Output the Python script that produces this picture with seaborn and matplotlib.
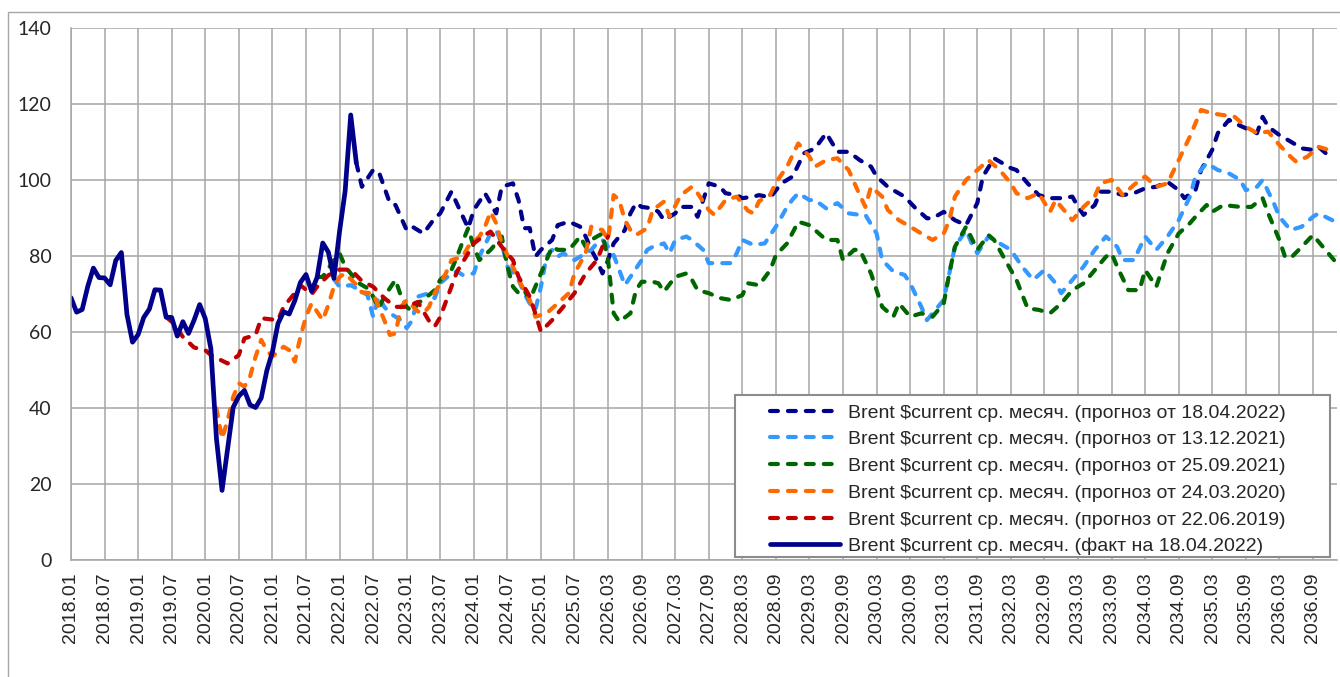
import matplotlib
matplotlib.use("Agg")
import matplotlib.pyplot as plt
import seaborn as sns
from matplotlib.patches import Rectangle

# Category axis: index 0 = 2018.01, one category per month, label every 6th
tick_labels = ["2018.01", "2018.07", "2019.01", "2019.07", "2020.01", "2020.07",
               "2021.01", "2021.07", "2022.01", "2022.07", "2023.01", "2023.07",
               "2024.01", "2024.07", "2025.01", "2025.07", "2026.03", "2026.09",
               "2027.03", "2027.09", "2028.03", "2028.09", "2029.03", "2029.09",
               "2030.03", "2030.09", "2031.03", "2031.09", "2032.03", "2032.09",
               "2033.03", "2033.09", "2034.03", "2034.09", "2035.03", "2035.09",
               "2036.03", "2036.09"]

# fact (solid), monthly from 2018.01 to 2022.04
fact_vals = [69.1, 65.3, 66.0, 72.1, 76.9, 74.4, 74.3, 72.5, 78.9, 81.0, 64.7, 57.4,
             59.4, 63.9, 66.1, 71.2, 71.1, 64.0, 63.9, 59.0, 62.8, 59.7, 63.2, 67.3,
             63.6, 55.7, 32.0, 18.4, 29.4, 40.3, 43.2, 44.7, 40.9, 40.2, 42.7, 49.9,
             54.8, 62.3, 65.4, 64.8, 68.3, 73.1, 75.2, 70.8, 74.5, 83.5, 81.1, 74.2,
             86.5, 97.1, 117.2, 104.6]
fact_idx = list(range(len(fact_vals)))

# forecast 18.04.2022
f2204_idx = [51, 52, 54, 55, 57, 58, 60, 61, 63, 65, 66, 68, 71, 72, 74, 76, 77, 79, 80, 81,
             82, 83, 84, 86, 87, 89, 91, 92, 93, 94, 95, 96, 97, 99, 100, 101, 102, 104, 105, 106,
             108, 109, 111, 112, 113, 114, 116, 117, 119, 120, 122, 123, 125, 127, 129, 131, 133, 135, 137, 139,
             141, 143, 144, 146, 147, 149, 151, 153, 154, 156, 158, 160, 162, 163, 165, 168, 169, 171, 173, 175,
             177, 179, 180, 181, 183, 184, 186, 188, 190, 192, 194, 196, 198, 199, 201, 202, 204, 205, 207, 208,
             210, 212, 213, 214, 216, 218, 220, 222, 223, 225]
f2204_vals = [104.6, 98.3, 102.7, 102.3, 94, 93.5, 86.9, 87.8, 86, 90, 91.3, 97, 87.4, 92.2, 96.6, 91.3, 98.3, 99.2, 94.8, 87.4,
              87.4, 79.9, 81.7, 84.3, 88.2, 89.1, 87.8, 85.2, 81.7, 79, 75.5, 79, 83.4, 86.9, 91.3, 94, 93, 92.6, 91.7, 89.5,
              91.3, 93, 93, 90.4, 94.8, 99.2, 98.3, 96.6, 96.1, 95.3, 95.7, 96.1, 95.5, 99.2, 101, 107.1, 108.4, 112.4, 107.5, 107.5,
              105.3, 103.6, 101, 98.3, 97.4, 95.7, 92.6, 90, 90, 91.7, 89.5, 88.2, 94, 101, 105.8, 103.2, 102.7, 99.2, 96.1, 95.3,
              95.3, 95.7, 93, 90.9, 93.5, 97, 97, 96.1, 96.6, 97.9, 98.3, 99.6, 97.4, 95.3, 97.4, 102.7, 108, 112.4, 115.9, 115,
              113.7, 112.4, 116.7, 114.1, 111.9, 110.2, 108.4, 108, 108.8, 106.2]

# forecast 13.12.2021
f2112_idx = [47, 48, 50, 51, 53, 54, 55, 56, 57, 59, 60, 61, 62, 64, 65, 66, 68, 69, 70, 72,
             73, 74, 75, 76, 77, 78, 80, 81, 82, 83, 84, 85, 86, 87, 88, 90, 92, 93, 94, 95,
             96, 97, 98, 99, 100, 102, 103, 104, 106, 107, 108, 110, 111, 113, 114, 116, 118, 119, 120, 122,
             124, 126, 128, 129, 130, 132, 133, 135, 137, 139, 141, 142, 144, 145, 147, 149, 150, 152, 153, 154,
             156, 157, 158, 160, 161, 162, 164, 166, 168, 170, 172, 174, 176, 177, 179, 181, 183, 185, 187, 188,
             190, 192, 194, 196, 198, 200, 201, 203, 205, 207, 209, 210, 212, 213, 215, 216, 218, 220, 222, 223,
             226]
f2112_vals = [74, 72, 72.4, 71.6, 69.8, 64.1, 69.4, 66.7, 65, 63.2, 61.1, 63.2, 69.4, 70.3, 69, 72.9, 75.5, 76, 75.1, 75.5,
              80, 83, 86, 86.9, 83.4, 77.3, 73.8, 70.3, 67.6, 65.9, 72, 79.9, 81.7, 79.9, 80.8, 79, 80.8, 81.7, 83.4, 84.3,
              82.5, 80.3, 76.4, 72.4, 74.6, 79, 81.7, 82.5, 83.4, 80.8, 84.3, 85.2, 84.3, 81.7, 78.2, 78.2, 78.2, 80.8, 84.3, 83,
              83.4, 87.8, 93, 95, 96.6, 94.8, 94.8, 92.6, 94, 91.3, 90.9, 90.9, 86, 79, 76, 75.1, 72.9, 66.7, 63.2, 65,
              68.5, 75.5, 82.5, 86.9, 83.4, 80.8, 85.2, 83.4, 81.7, 77.3, 73.8, 76.4, 72.9, 70.3, 73.8, 77.3, 81.7, 85.2, 82.5, 79,
              79, 85.2, 81.7, 85.2, 89.5, 95.7, 101, 104.5, 102.7, 101.8, 100.1, 97.4, 98.3, 100.1, 94, 90.4, 86.9, 87.8, 90.4, 91.3,
              89.1]

# forecast 25.09.2021
f2109_idx = [44, 45, 47, 48, 49, 50, 51, 53, 54, 55, 56, 58, 59, 60, 61, 62, 64, 65, 66, 68,
             69, 70, 71, 72, 73, 75, 77, 78, 79, 80, 81, 82, 83, 84, 85, 86, 87, 89, 90, 91,
             92, 93, 94, 95, 96, 97, 98, 100, 101, 102, 104, 105, 106, 108, 110, 111, 112, 114, 116, 118,
             120, 121, 123, 125, 126, 128, 130, 132, 133, 135, 137, 138, 140, 141, 143, 145, 147, 148, 150, 152,
             154, 156, 157, 158, 160, 162, 164, 165, 167, 169, 171, 173, 175, 177, 179, 181, 182, 185, 186, 187,
             189, 191, 192, 194, 195, 196, 198, 200, 201, 203, 204, 206, 209, 211, 213, 214, 216, 217, 218, 220,
             222, 224, 226]
f2109_vals = [74.5, 74.6, 79, 80.8, 77.3, 75.5, 73.3, 71.6, 69.4, 66.3, 69.4, 73.8, 69.4, 66.7, 65.4, 67.6, 69.8, 71.1, 73.8, 76.4,
              79.9, 83.8, 87.4, 82.5, 79, 81.7, 85.2, 77.3, 72, 70.3, 71.1, 68.5, 72, 75.5, 79, 82.5, 81.7, 81.7, 83.4, 85.2,
              82.5, 84.3, 85.2, 86, 79, 65, 62.8, 65, 71.1, 73.3, 73.3, 72.9, 70.7, 74.6, 75.5, 73.8, 71.1, 70.3, 69, 68.5,
              69.8, 72.9, 72.4, 76.4, 80.3, 83.4, 89.1, 88.2, 86.9, 84.3, 84.3, 79, 81.7, 81.7, 75.5, 66.7, 64.1, 67.6, 64.1, 65,
              64.1, 67.6, 75.5, 82.5, 87.8, 81.7, 85.6, 84.3, 79, 73.8, 66.3, 65.9, 65, 67.6, 71.1, 72.9, 74.6, 79.9, 80.8, 77.3,
              71.1, 71.1, 76.4, 72, 76.4, 80.8, 86, 88.7, 90.4, 93.5, 91.7, 93.5, 93, 93, 95.3, 91.3, 84.3, 79.9, 79.5, 82.5,
              85.6, 82.1, 78.6]

# forecast 24.03.2020
f2003_idx = [26, 27, 28, 29, 30, 31, 32, 33, 34, 35, 36, 38, 39, 40, 41, 42, 43, 44, 45, 46,
             47, 48, 49, 51, 52, 54, 55, 56, 57, 58, 59, 60, 62, 63, 64, 65, 67, 68, 70, 71,
             73, 74, 75, 76, 77, 79, 80, 82, 83, 85, 87, 89, 90, 92, 93, 95, 96, 97, 98, 99,
             100, 101, 103, 104, 106, 107, 109, 111, 112, 114, 115, 117, 119, 121, 122, 123, 125, 126, 128, 130,
             132, 133, 135, 137, 139, 141, 142, 143, 145, 146, 148, 150, 152, 154, 156, 157, 158, 160, 162, 164,
             166, 168, 169, 171, 173, 175, 176, 179, 181, 183, 184, 186, 188, 190, 192, 194, 196, 198, 200, 202,
             204, 208, 210, 212, 214, 216, 218, 219, 221, 223, 226]
f2003_vals = [40, 32, 36.9, 43, 46.6, 45.7, 48.3, 53.6, 58, 55.3, 53.6, 56.2, 55.3, 52.3, 58.8, 64.1, 67.6, 65.4, 63.2, 67.2,
              72, 74.6, 75.5, 72.5, 70.5, 70.3, 66.7, 63.2, 59.3, 59.7, 66.7, 68.5, 65.5, 65, 66.7, 70.3, 75.5, 79, 79.9, 82.5,
              85.2, 87.8, 91.7, 88.7, 83.4, 77.3, 73.8, 68.5, 64.1, 65, 67.6, 70.3, 75.5, 80.8, 87.8, 86.9, 84.3, 96.1, 94.8, 89.5,
              86.9, 85.6, 87.4, 92.2, 94.4, 90.4, 96.1, 98.3, 96.6, 92.2, 90.9, 94.8, 95.7, 92, 91.3, 94.5, 96.2, 99.4, 103.6, 109.7,
              106.2, 103.6, 105.3, 105.8, 102.7, 96.1, 93, 98.3, 95.7, 92.2, 89.5, 87.8, 86, 84.3, 86, 89.5, 95.7, 100.1, 102.7, 105.3,
              102.7, 99.2, 96.6, 95.3, 96.6, 91.7, 94.8, 89.5, 93, 95.7, 99.2, 100.1, 96.1, 98.8, 101, 98.3, 99.2, 105.3, 111.5, 118.5,
              117.6, 116.7, 114.1, 112.4, 112.8, 109.3, 106.2, 104.9, 106.2, 108.8, 107.5]

# forecast 22.06.2019
f1906_idx = [17, 18, 20, 22, 24, 25, 28, 30, 31, 33, 34, 37, 38, 40, 41, 43, 44, 46, 48, 50,
             52, 54, 56, 58, 60, 62, 64, 65, 66, 67, 69, 71, 72, 74, 75, 77, 79, 80, 82, 83,
             84, 86, 88, 90, 92, 94, 95, 96]
f1906_vals = [64, 62.8, 58.8, 56, 55.3, 54, 51.8, 54, 58.4, 59.3, 63.7, 63.2, 66.7, 70.3, 72.4, 70, 72, 75, 76.5, 76.5,
              73.5, 72, 69, 66.7, 66.7, 68, 63, 61.5, 64, 68, 76, 80.8, 83.4, 85.6, 86.5, 82.5, 79, 74.6, 69.4, 65,
              60.2, 63.2, 66.7, 70.3, 75.5, 79, 82.5, 85.2]

prefix = "Brent $current ср. месяч. "
series = [
    (f2204_idx, f2204_vals, "#00008B", prefix + "(прогноз от 18.04.2022)"),
    (f2112_idx, f2112_vals, "#3399FF", prefix + "(прогноз от 13.12.2021)"),
    (f2109_idx, f2109_vals, "#006600", prefix + "(прогноз от 25.09.2021)"),
    (f2003_idx, f2003_vals, "#FF6A00", prefix + "(прогноз от 24.03.2020)"),
    (f1906_idx, f1906_vals, "#C00000", prefix + "(прогноз от 22.06.2019)"),
]

sns.set_style("white")
plt.rcParams["font.family"] = ["Liberation Sans", "DejaVu Sans"]
grid_c = "#A6A6A6"

fig = plt.figure(figsize=(13.4, 6.77), dpi=100)
ax = fig.add_axes([71 / 1340, 1 - 560.3 / 677, 1266 / 1340, 532.0 / 677])

for idx, vals, col, lab in series:
    sns.lineplot(x=idx, y=vals, ax=ax, color=col, lw=3.0, linestyle=(0, (1.9, 2.4)),
                 dash_capstyle="round", label=lab, legend=False)
sns.lineplot(x=fact_idx, y=fact_vals, ax=ax, color="#00008B", lw=3.4,
             solid_joinstyle="round", label=prefix + "(факт на 18.04.2022)", legend=False)

ax.set_xlim(0, 226.3)
ax.set_ylim(0, 140)
ax.set_xticks(range(0, 6 * len(tick_labels), 6))
ax.set_xticklabels(tick_labels, rotation=90, fontsize=14)
ax.set_yticks(range(0, 141, 20))
ax.set_yticklabels([str(v) for v in range(0, 141, 20)], fontsize=14, family="Lato")
ax.tick_params(axis="x", length=3.6, width=1, color=grid_c, pad=5)
ax.tick_params(axis="y", length=5.5, width=1, color=grid_c, pad=8.6)
ax.grid(True, color=grid_c, lw=1.1)
ax.set_axisbelow(True)
for s in ["top", "right"]:
    ax.spines[s].set_visible(False)
for s in ["left", "bottom"]:
    ax.spines[s].set_color(grid_c)
    ax.spines[s].set_linewidth(1.1)

# legend box
ax.add_patch(Rectangle((0.5245, 0.0062), 0.47, 0.3045, transform=ax.transAxes,
                       facecolor="white", edgecolor="#8C8C8C", lw=1.5, zorder=4, clip_on=False))
ax.legend(loc="upper left", bbox_to_anchor=(0.552, 0.294), frameon=False, fontsize=14,
          handlelength=3.6, handletextpad=0.41, borderpad=0, borderaxespad=0, labelspacing=0.47)

# outer chart frame
fig.add_artist(Rectangle((8 / 1340, -0.05), 2, 665 / 677 + 0.05, transform=fig.transFigure,
                         fill=False, edgecolor=grid_c, lw=1))

fig.savefig("out.png", dpi=100)
